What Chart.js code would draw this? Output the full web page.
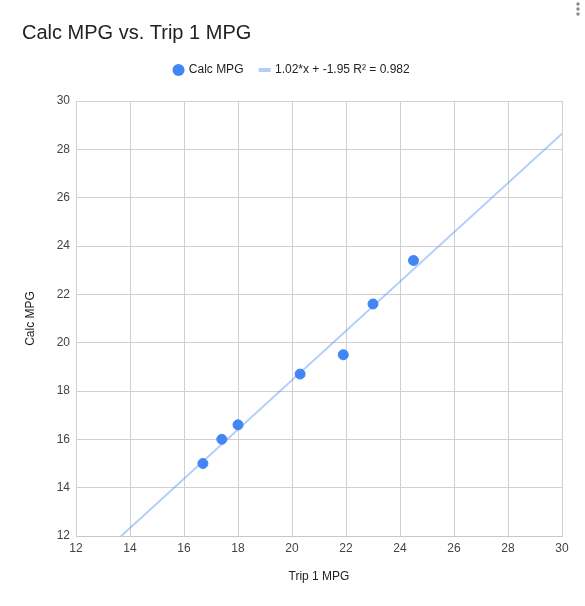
<!DOCTYPE html>
<html>
<head>
<meta charset="utf-8">
<script src="https://cdn.jsdelivr.net/npm/chart.js@4.4.1/dist/chart.umd.min.js"></script>
<style>
  body { margin: 0; background: #fff; }
  #wrap { width: 585px; height: 606px; }
</style>
</head>
<body>
<div id="wrap"><canvas id="grafico"></canvas></div>
<script>
// dados
const tripMpg = [16.7, 17.4, 18.0, 20.3, 21.9, 23.0, 24.5];
const calcMpg = [15.0, 16.0, 16.6, 18.7, 19.5, 21.6, 23.4];
const trendSlope = 1.02;
const trendIntercept = -1.95;
const trendLabel = "1.02*x + -1.95 R² = 0.982";
const eixoX = [12, 30];
const eixoY = [12, 30];

const fonte = "Arial, 'Liberation Sans', sans-serif";
const azul = "#4285f4";
const azulClaro = "rgba(66,133,244,0.4)";

const pontos = tripMpg.map((x, i) => ({ x: x, y: calcMpg[i] }));
const tendencia = eixoX.map(x => ({ x: x, y: trendSlope * x + trendIntercept }));

// espaco extra abaixo da legenda
const espacoLegenda = {
    id: "espacoLegenda",
    afterInit(chart) {
        const fitOriginal = chart.legend.fit;
        chart.legend.fit = function () {
            fitOriginal.bind(chart.legend)();
            this.height += 15;
        };
    }
};

// menu de tres pontos no canto
const menuPontos = {
    id: "menuPontos",
    afterDraw(chart) {
        const ctx = chart.ctx;
        ctx.save();
        ctx.fillStyle = "#8a8a8a";
        [4, 9, 14].forEach(y => {
            ctx.beginPath();
            ctx.arc(578, y, 1.7, 0, Math.PI * 2);
            ctx.fill();
        });
        ctx.restore();
    }
};

const graficoMpg = new Chart(document.querySelector("#grafico"), {
    type: "scatter",
    data: {
        datasets: [
            {
                label: "Calc MPG",
                data: pontos,
                backgroundColor: azul,
                borderColor: azul,
                pointRadius: 5,
                pointHoverRadius: 5,
                pointStyle: "circle"
            },
            {
                label: trendLabel,
                type: "line",
                data: tendencia,
                borderColor: azulClaro,
                backgroundColor: azulClaro,
                borderWidth: 2,
                pointRadius: 0,
                fill: false,
                pointStyle: "line"
            }
        ]
    },
    options: {
        responsive: true,
        maintainAspectRatio: false,
        animation: false,
        layout: { padding: { left: 22, right: 23, top: 0, bottom: 0 } },
        plugins: {
            tooltip: { enabled: false },
            title: {
                display: true,
                text: "Calc MPG vs. Trip 1 MPG",
                align: "start",
                color: "#222",
                font: { family: fonte, size: 20, weight: "normal" },
                padding: { top: 21, bottom: 2 }
            },
            legend: {
                display: true,
                labels: {
                    color: "#222",
                    font: { family: fonte, size: 12 },
                    usePointStyle: true,
                    boxHeight: 8.5,
                    boxWidth: 8.5,
                    padding: 17,
                    generateLabels(chart) {
                        return chart.data.datasets.map((ds, i) => ({
                            text: ds.label,
                            fillStyle: i === 0 ? azul : azulClaro,
                            strokeStyle: i === 0 ? azul : azulClaro,
                            lineWidth: i === 0 ? 0 : 4,
                            pointStyle: i === 0 ? "circle" : "line",
                            datasetIndex: i,
                            fontColor: "#222"
                        }));
                    }
                }
            }
        },
        scales: {
            x: {
                type: "linear",
                min: eixoX[0],
                max: eixoX[1],
                ticks: {
                    stepSize: 2,
                    color: "#444",
                    padding: 5,
                    font: { family: fonte, size: 12 }
                },
                grid: { color: "#d0d0d0", drawTicks: false },
                border: { color: "#c8c8c8" },
                title: {
                    display: true,
                    text: "Trip 1 MPG",
                    color: "#222",
                    font: { family: fonte, size: 12 },
                    padding: { top: 4, bottom: 22 }
                },
                afterFit(scale) { scale.height = 70; }
            },
            y: {
                type: "linear",
                min: eixoY[0],
                max: eixoY[1],
                ticks: {
                    stepSize: 2,
                    color: "#444",
                    padding: 6,
                    font: { family: fonte, size: 12 }
                },
                grid: { color: "#d0d0d0", drawTicks: false },
                border: { color: "#d0d0d0" },
                title: {
                    display: true,
                    text: "Calc MPG",
                    color: "#222",
                    font: { family: fonte, size: 12 },
                    padding: { top: 1, bottom: 4 }
                },
                afterFit(scale) { scale.width = 54; }
            }
        }
    },
    plugins: [espacoLegenda, menuPontos]
});
</script>
</body>
</html>
